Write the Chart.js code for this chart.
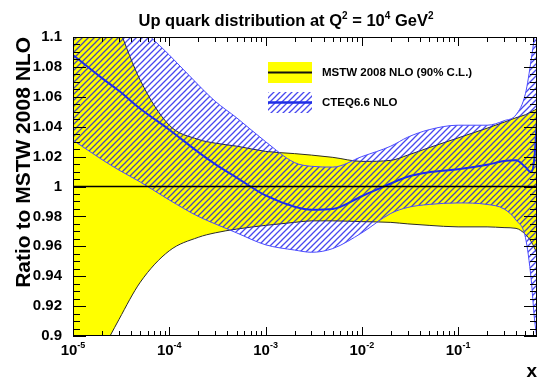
<!DOCTYPE html>
<html>
<head>
<meta charset="utf-8">
<script src="https://cdn.jsdelivr.net/npm/chart.js@4.4.1/dist/chart.umd.min.js"></script>
<style>
  html, body { margin: 0; padding: 0; background: #fff; }
  canvas { display: block; }
</style>
</head>
<body>
<canvas id="c" width="541" height="377"></canvas>
<script>
// Up-quark PDF ratio to MSTW 2008 NLO at Q^2 = 10^4 GeV^2
const xs = [1e-5, 2e-5, 3e-5, 5e-5, 1e-4, 2e-4, 3e-4, 5e-4, 1e-3, 2e-3, 3e-3, 5e-3,
            1e-2, 2e-2, 3e-2, 5e-2, 0.1, 0.2, 0.3, 0.4, 0.5, 0.575, 0.62, 0.66];

// MSTW 2008 NLO 90% C.L. band (upper / lower edge)
const mstwUpper = [1.19, 1.136, 1.106, 1.071, 1.041, 1.0315, 1.029, 1.027, 1.0235, 1.022, 1.021, 1.0195,
                   1.0168, 1.0175, 1.021, 1.026, 1.0325, 1.039, 1.043, 1.046, 1.048, 1.050, 1.051, 1.052];
const mstwLower = [0.84, 0.889, 0.911, 0.936, 0.957, 0.966, 0.969, 0.9715, 0.974, 0.976, 0.977, 0.977,
                   0.9765, 0.976, 0.975, 0.974, 0.973, 0.973, 0.9725, 0.972, 0.968, 0.963, 0.959, 0.955];

// CTEQ6.6 NLO band and central value
const cteqUpper = [1.16, 1.138, 1.124, 1.107, 1.088, 1.068, 1.057, 1.046, 1.030, 1.016, 1.0135, 1.013,
                   1.020, 1.027, 1.033, 1.038, 1.041, 1.041, 1.044, 1.048, 1.062, 1.085, 1.10, 1.115];
const cteqLower = [1.031, 1.018, 1.011, 1.003, 0.991, 0.980, 0.975, 0.969, 0.961, 0.9575, 0.956, 0.9585,
                   0.969, 0.982, 0.986, 0.988, 0.989, 0.988, 0.985, 0.9775, 0.966, 0.9375, 0.912, 0.898];
const cteqCentral = [1.088, 1.0725, 1.064, 1.052, 1.038, 1.023, 1.015, 1.006, 0.994, 0.9865, 0.9845, 0.985,
                     0.9935, 1.002, 1.0065, 1.0095, 1.0115, 1.0145, 1.017, 1.0175, 1.013, 1.0095, 1.019, 1.045];

// MSTW central value (reference, ratio = 1)
const mstwCentralX = [1e-5, 0.66];
const mstwCentral = [1, 1];

// Axis ticks
const yTicks = [0.9, 0.92, 0.94, 0.96, 0.98, 1.0, 1.02, 1.04, 1.06, 1.08, 1.1];
const yTickLabels = ['0.9', '0.92', '0.94', '0.96', '0.98', '1', '1.02', '1.04', '1.06', '1.08', '1.1'];
const xDecades = [1e-5, 1e-4, 1e-3, 1e-2, 1e-1];
const xDecadeExps = ['-5', '-4', '-3', '-2', '-1'];

const FONT = '"Liberation Sans", Arial, Helvetica, sans-serif';
const canvas = document.getElementById('c');
const ctx = canvas.getContext('2d');

// diagonal "/" hatch used for the CTEQ band
function makeHatch(color) {
  const s = 6;
  const t = document.createElement('canvas');
  t.width = s; t.height = s;
  const g = t.getContext('2d');
  g.strokeStyle = color;
  g.lineWidth = 1.3;
  g.beginPath();
  g.moveTo(-1, s + 1); g.lineTo(s + 1, -1);
  g.moveTo(-1, 1); g.lineTo(1, -1);
  g.moveTo(s - 1, s + 1); g.lineTo(s + 1, s - 1);
  g.stroke();
  return ctx.createPattern(t, 'repeat');
}
const hatch = makeHatch('rgba(20,20,235,0.78)');

const pts = (xv, yv) => xv.map((x, i) => ({ x: x, y: yv[i] }));

const decor = {
  id: 'decor',
  afterDatasetsDraw(chart) {
    const c = chart.ctx, a = chart.chartArea, xs_ = chart.scales.x, ys_ = chart.scales.y;
    c.save();
    c.strokeStyle = '#000';
    c.lineWidth = 1;
    c.beginPath();
    // y ticks (major every 0.02, minor every 0.005), both sides
    for (let i = 0; i < yTicks.length; i++) {
      const py = Math.round(ys_.getPixelForValue(yTicks[i])) + 0.5;
      c.moveTo(a.left, py); c.lineTo(a.left + 13, py);
      c.moveTo(a.right, py); c.lineTo(a.right - 13, py);
      if (i < yTicks.length - 1) {
        const step = (yTicks[i + 1] - yTicks[i]) / 4;
        for (let k = 1; k < 4; k++) {
          const pm = Math.round(ys_.getPixelForValue(yTicks[i] + k * step)) + 0.5;
          c.moveTo(a.left, pm); c.lineTo(a.left + 7, pm);
          c.moveTo(a.right, pm); c.lineTo(a.right - 7, pm);
        }
      }
    }
    // x ticks (decades and 2..9 sub-ticks), top and bottom
    for (const d of xDecades) {
      for (let m = 1; m <= 9; m++) {
        const v = d * m;
        if (v > xs_.max) break;
        const px = Math.round(xs_.getPixelForValue(v)) + 0.5;
        const len = m === 1 ? 9 : 5;
        c.moveTo(px, a.bottom); c.lineTo(px, a.bottom - len);
        c.moveTo(px, a.top); c.lineTo(px, a.top + len);
      }
    }
    c.stroke();
    // frame
    c.strokeRect(a.left + 0.5, a.top + 0.5, a.right - a.left - 1, a.bottom - a.top - 1);
    c.restore();
  },
  afterDraw(chart) {
    const c = chart.ctx, xs_ = chart.scales.x;
    c.save();
    c.fillStyle = '#000';
    c.textBaseline = 'alphabetic';
    c.textAlign = 'left';

    // title with superscripts
    const parts = [
      ['Up quark distribution at Q', 0], ['2', 1], [' = 10', 0], ['4', 1], [' GeV', 0], ['2', 1]
    ];
    const fMain = 'bold 16.5px ' + FONT, fSup = 'bold 10px ' + FONT;
    let tw = 0;
    for (const [t, s] of parts) { c.font = s ? fSup : fMain; tw += c.measureText(t).width; }
    let tx = 286 - tw / 2;
    for (const [t, s] of parts) {
      c.font = s ? fSup : fMain;
      c.fillText(t, tx, s ? 19 : 26);
      tx += c.measureText(t).width;
    }

    // x tick labels: 10^n
    for (let i = 0; i < xDecades.length; i++) {
      const px = xs_.getPixelForValue(xDecades[i]);
      c.font = 'bold 15px ' + FONT;
      const w1 = c.measureText('10').width;
      c.font = 'bold 9px ' + FONT;
      const w2 = c.measureText(xDecadeExps[i]).width;
      const x0 = px - (w1 + w2) / 2;
      c.font = 'bold 15px ' + FONT;
      c.fillText('10', x0, 355);
      c.font = 'bold 9px ' + FONT;
      c.fillText(xDecadeExps[i], x0 + w1, 348);
    }

    // legend
    c.fillStyle = '#ffff00';
    c.fillRect(268, 62, 44, 21);
    c.strokeStyle = '#111';
    c.lineWidth = 2;
    c.beginPath(); c.moveTo(268, 72.5); c.lineTo(312, 72.5); c.stroke();
    c.fillStyle = hatch;
    c.fillRect(268, 92, 44, 21);
    c.strokeStyle = '#1e2ee6';
    c.lineWidth = 2.5;
    c.beginPath(); c.moveTo(268, 102.5); c.lineTo(312, 102.5); c.stroke();
    c.fillStyle = '#000';
    c.font = 'bold 11.5px ' + FONT;
    c.textBaseline = 'middle';
    c.fillText('MSTW 2008 NLO (90% C.L.)', 322, 73);
    c.fillText('CTEQ6.6 NLO', 322, 103);
    c.restore();
  }
};

new Chart(ctx, {
  type: 'line',
  data: {
    datasets: [
      { label: 'MSTW upper', data: pts(xs, mstwUpper), borderColor: '#2a2a2a', borderWidth: 1,
        backgroundColor: '#ffff00', fill: 1, order: 6 },
      { label: 'MSTW lower', data: pts(xs, mstwLower), borderColor: '#2a2a2a', borderWidth: 1,
        fill: false, order: 5 },
      { label: 'CTEQ upper', data: pts(xs, cteqUpper), borderColor: '#4a4aff', borderWidth: 1,
        backgroundColor: hatch, fill: 3, order: 4 },
      { label: 'CTEQ lower', data: pts(xs, cteqLower), borderColor: '#4a4aff', borderWidth: 1,
        fill: false, order: 3 },
      { label: 'CTEQ6.6 NLO', data: pts(xs, cteqCentral), borderColor: '#1e2ee6', borderWidth: 2,
        fill: false, order: 2 },
      { label: 'MSTW 2008 NLO', data: pts(mstwCentralX, mstwCentral), borderColor: '#000', borderWidth: 1.5,
        fill: false, order: 1 }
    ]
  },
  options: {
    responsive: false,
    animation: false,
    devicePixelRatio: 1,
    layout: { padding: { top: 37, right: 4, left: 0, bottom: 0 } },
    plugins: { legend: { display: false }, tooltip: { enabled: false }, title: { display: false } },
    elements: {
      point: { radius: 0 },
      line: { cubicInterpolationMode: 'monotone' }
    },
    datasets: { line: { clip: 0 } },
    scales: {
      x: {
        type: 'logarithmic', min: 1e-5, max: 0.66,
        grid: { display: false }, border: { display: false },
        ticks: { display: false },
        title: { display: true, text: 'x', align: 'end', color: '#000', padding: 0,
                 font: { family: FONT, size: 19, weight: 'bold', lineHeight: 0.6 } },
        afterFit: s => { s.height = 41; }
      },
      y: {
        min: 0.9, max: 1.1,
        grid: { display: false }, border: { display: false },
        afterBuildTicks: s => { s.ticks = yTicks.map(v => ({ value: v })); },
        ticks: {
          color: '#000', padding: 3,
          font: { family: FONT, size: 15, weight: 'bold' },
          callback: (v) => yTickLabels[yTicks.findIndex(t => Math.abs(t - v) < 1e-9)]
        },
        title: { display: true, text: 'Ratio to MSTW 2008 NLO', align: 'end', color: '#000',
                 padding: { top: 12, bottom: 0 },
                 font: { family: FONT, size: 21, weight: 'bold' } },
        afterFit: s => { s.width = 73; }
      }
    }
  },
  plugins: [decor]
});
</script>
</body>
</html>
